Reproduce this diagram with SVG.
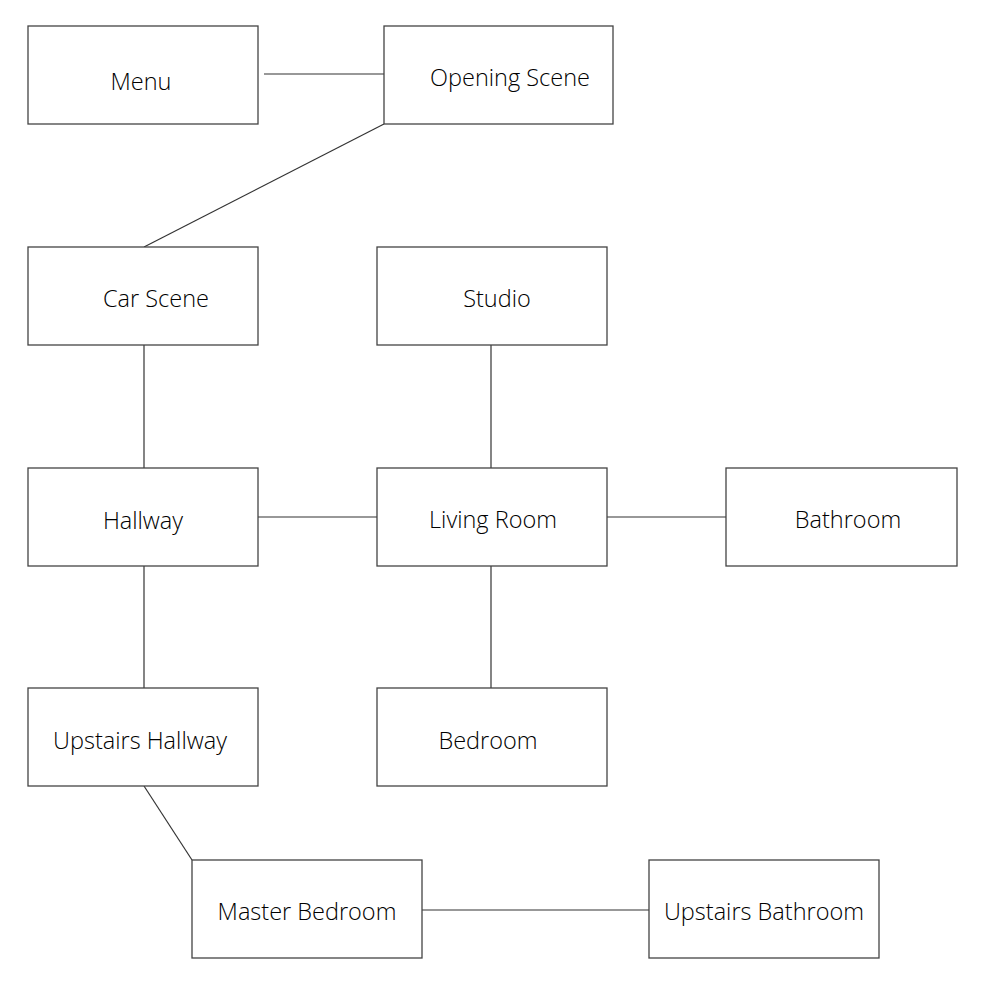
<svg xmlns="http://www.w3.org/2000/svg" width="1000" height="1000" viewBox="0 0 1000 1000">
<style>
.box{fill:#fff;stroke:#444;stroke-width:1.3}
.lbl{font-family:"Open Sans","Noto Sans",sans-serif;font-weight:300;font-size:23.5px;fill:#000;text-anchor:middle}
.con line{stroke:#333;stroke-width:1.2}
</style>
<rect width="1000" height="1000" fill="#fff"/>
<g id="connectors" class="con">
<line x1="264" y1="74" x2="384" y2="74"/>
<line x1="384" y1="124" x2="144" y2="247"/>
<line x1="144" y1="345" x2="144" y2="468"/>
<line x1="491" y1="345" x2="491" y2="468"/>
<line x1="258" y1="517" x2="377" y2="517"/>
<line x1="607" y1="517" x2="726" y2="517"/>
<line x1="491" y1="566" x2="491" y2="688"/>
<line x1="144" y1="566" x2="144" y2="688"/>
<line x1="144" y1="786" x2="192" y2="860"/>
<line x1="422" y1="910" x2="649" y2="910"/>
</g>
<g id="menu"><rect class="box" x="28" y="26" width="230" height="98"/><text class="lbl" x="141" y="90">Menu</text></g>
<g id="opening"><rect class="box" x="384" y="26" width="229" height="98"/><text class="lbl" x="510" y="86">Opening Scene</text></g>
<g id="car"><rect class="box" x="28" y="247" width="230" height="98"/><text class="lbl" x="156" y="307">Car Scene</text></g>
<g id="studio"><rect class="box" x="377" y="247" width="230" height="98"/><text class="lbl" x="497" y="307">Studio</text></g>
<g id="hallway"><rect class="box" x="28" y="468" width="230" height="98"/><text class="lbl" x="143" y="529">Hallway</text></g>
<g id="living"><rect class="box" x="377" y="468" width="230" height="98"/><text class="lbl" x="493" y="528">Living Room</text></g>
<g id="bathroom"><rect class="box" x="726" y="468" width="231" height="98"/><text class="lbl" x="848" y="528">Bathroom</text></g>
<g id="upstairs-hallway"><rect class="box" x="28" y="688" width="230" height="98"/><text class="lbl" x="140" y="749">Upstairs Hallway</text></g>
<g id="bedroom"><rect class="box" x="377" y="688" width="230" height="98"/><text class="lbl" x="488" y="749">Bedroom</text></g>
<g id="master-bedroom"><rect class="box" x="192" y="860" width="230" height="98"/><text class="lbl" x="307" y="920">Master Bedroom</text></g>
<g id="upstairs-bathroom"><rect class="box" x="649" y="860" width="230" height="98"/><text class="lbl" x="764" y="920">Upstairs Bathroom</text></g>
</svg>
